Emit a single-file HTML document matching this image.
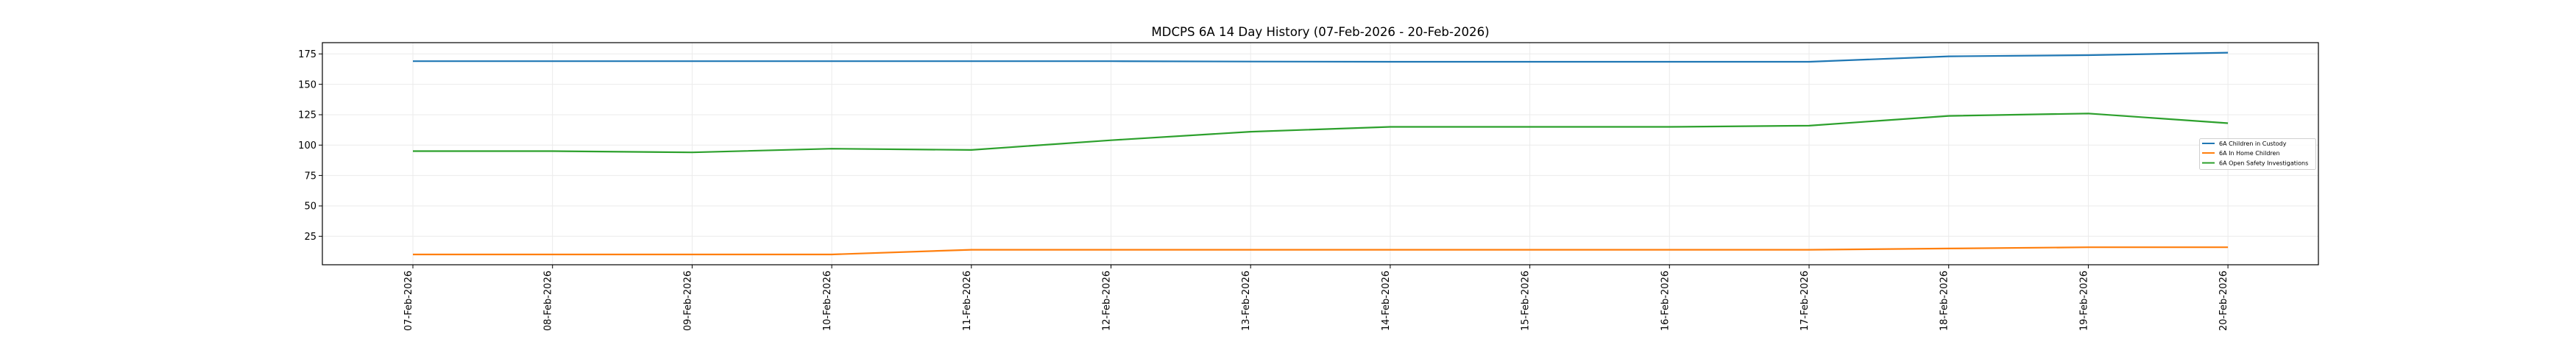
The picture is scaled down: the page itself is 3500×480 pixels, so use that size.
<!DOCTYPE html>
<html><head><meta charset="utf-8"><style>html,body{margin:0;padding:0;background:#fff}svg{display:block}</style></head>
<body>
<svg width="3500" height="480" xmlns="http://www.w3.org/2000/svg" font-family="DejaVu Sans, Liberation Sans, sans-serif">
<rect width="3500" height="480" fill="#fff"/>
<g stroke="#ebebeb" stroke-width="1">
<line x1="438" x2="3150" y1="73.3" y2="73.3"/><line x1="438" x2="3150" y1="114.6" y2="114.6"/><line x1="438" x2="3150" y1="156" y2="156"/><line x1="438" x2="3150" y1="197.3" y2="197.3"/><line x1="438" x2="3150" y1="238.6" y2="238.6"/><line x1="438" x2="3150" y1="280" y2="280"/><line x1="438" x2="3150" y1="321.3" y2="321.3"/>
<line y1="58" y2="360" x1="561" x2="561"/><line y1="58" y2="360" x1="750.7" x2="750.7"/><line y1="58" y2="360" x1="940.4" x2="940.4"/><line y1="58" y2="360" x1="1130.1" x2="1130.1"/><line y1="58" y2="360" x1="1319.8" x2="1319.8"/><line y1="58" y2="360" x1="1509.5" x2="1509.5"/><line y1="58" y2="360" x1="1699.2" x2="1699.2"/><line y1="58" y2="360" x1="1888.9" x2="1888.9"/><line y1="58" y2="360" x1="2078.6" x2="2078.6"/><line y1="58" y2="360" x1="2268.3" x2="2268.3"/><line y1="58" y2="360" x1="2458" x2="2458"/><line y1="58" y2="360" x1="2647.7" x2="2647.7"/><line y1="58" y2="360" x1="2837.4" x2="2837.4"/><line y1="58" y2="360" x1="3027.1" x2="3027.1"/>
</g>
<g fill="none" stroke-width="2.2" stroke-linejoin="round">
<polyline stroke="#1f77b4" points="561,83.2 750.7,83.2 940.4,83.2 1130.1,83.2 1319.8,83.2 1509.5,83.2 1699.2,83.7 1888.9,84 2078.6,84 2268.3,84 2458,84 2647.7,76.6 2837.4,75 3027.1,71.6"/>
<polyline stroke="#ff7f0e" points="561,346 750.7,346 940.4,346 1130.1,346 1319.8,339.6 1509.5,339.6 1699.2,339.6 1888.9,339.6 2078.6,339.6 2268.3,339.6 2458,339.6 2647.7,337.9 2837.4,336.2 3027.1,336.2"/>
<polyline stroke="#2ca02c" points="561,205.5 750.7,205.5 940.4,207.2 1130.1,202.2 1319.8,203.9 1509.5,190.7 1699.2,179.1 1888.9,172.5 2078.6,172.5 2268.3,172.5 2458,170.9 2647.7,157.6 2837.4,154.3 3027.1,167.5"/>
</g>
<rect x="438" y="58" width="2712" height="302" fill="none" stroke="#000" stroke-width="1.2"/>
<g stroke="#000" stroke-width="1">
<line x1="433" x2="438" y1="73.3" y2="73.3"/><line x1="433" x2="438" y1="114.6" y2="114.6"/><line x1="433" x2="438" y1="156" y2="156"/><line x1="433" x2="438" y1="197.3" y2="197.3"/><line x1="433" x2="438" y1="238.6" y2="238.6"/><line x1="433" x2="438" y1="280" y2="280"/><line x1="433" x2="438" y1="321.3" y2="321.3"/>
</g>
<g font-size="13" text-anchor="end" fill="#000">
<text x="430" y="78">175</text><text x="430" y="119.3">150</text><text x="430" y="160.7">125</text><text x="430" y="202">100</text><text x="430" y="243.3">75</text><text x="430" y="284.7">50</text><text x="430" y="326">25</text>
</g>
<g stroke="#000" stroke-width="1">
<line y1="360" y2="365" x1="561" x2="561"/><line y1="360" y2="365" x1="750.7" x2="750.7"/><line y1="360" y2="365" x1="940.4" x2="940.4"/><line y1="360" y2="365" x1="1130.1" x2="1130.1"/><line y1="360" y2="365" x1="1319.8" x2="1319.8"/><line y1="360" y2="365" x1="1509.5" x2="1509.5"/><line y1="360" y2="365" x1="1699.2" x2="1699.2"/><line y1="360" y2="365" x1="1888.9" x2="1888.9"/><line y1="360" y2="365" x1="2078.6" x2="2078.6"/><line y1="360" y2="365" x1="2268.3" x2="2268.3"/><line y1="360" y2="365" x1="2458" x2="2458"/><line y1="360" y2="365" x1="2647.7" x2="2647.7"/><line y1="360" y2="365" x1="2837.4" x2="2837.4"/><line y1="360" y2="365" x1="3027.1" x2="3027.1"/>
</g>
<g font-size="13" text-anchor="end" fill="#000">
<text transform="translate(559,368) rotate(-90)">07-Feb-2026</text>
<text transform="translate(748.7,368) rotate(-90)">08-Feb-2026</text>
<text transform="translate(938.4,368) rotate(-90)">09-Feb-2026</text>
<text transform="translate(1128.1,368) rotate(-90)">10-Feb-2026</text>
<text transform="translate(1317.8,368) rotate(-90)">11-Feb-2026</text>
<text transform="translate(1507.5,368) rotate(-90)">12-Feb-2026</text>
<text transform="translate(1697.2,368) rotate(-90)">13-Feb-2026</text>
<text transform="translate(1886.9,368) rotate(-90)">14-Feb-2026</text>
<text transform="translate(2076.6,368) rotate(-90)">15-Feb-2026</text>
<text transform="translate(2266.3,368) rotate(-90)">16-Feb-2026</text>
<text transform="translate(2456,368) rotate(-90)">17-Feb-2026</text>
<text transform="translate(2645.7,368) rotate(-90)">18-Feb-2026</text>
<text transform="translate(2835.4,368) rotate(-90)">19-Feb-2026</text>
<text transform="translate(3025.1,368) rotate(-90)">20-Feb-2026</text>
</g>
<text x="1794" y="49" font-size="16.6" text-anchor="middle" fill="#000">MDCPS 6A 14 Day History (07-Feb-2026 - 20-Feb-2026)</text>
<rect x="2988.5" y="188.5" width="158" height="42" rx="2" fill="#fff" fill-opacity="0.8" stroke="#d0d0d0"/>
<g stroke-width="2">
<line x1="2992" x2="3009" y1="195" y2="195" stroke="#1f77b4"/>
<line x1="2992" x2="3009" y1="208" y2="208" stroke="#ff7f0e"/>
<line x1="2992" x2="3009" y1="221.5" y2="221.5" stroke="#2ca02c"/>
</g>
<g font-size="8" fill="#000">
<text x="3015" y="198">6A Children in Custody</text>
<text x="3015" y="211">6A In Home Children</text>
<text x="3015" y="224.5">6A Open Safety Investigations</text>
</g>
</svg>
</body></html>
